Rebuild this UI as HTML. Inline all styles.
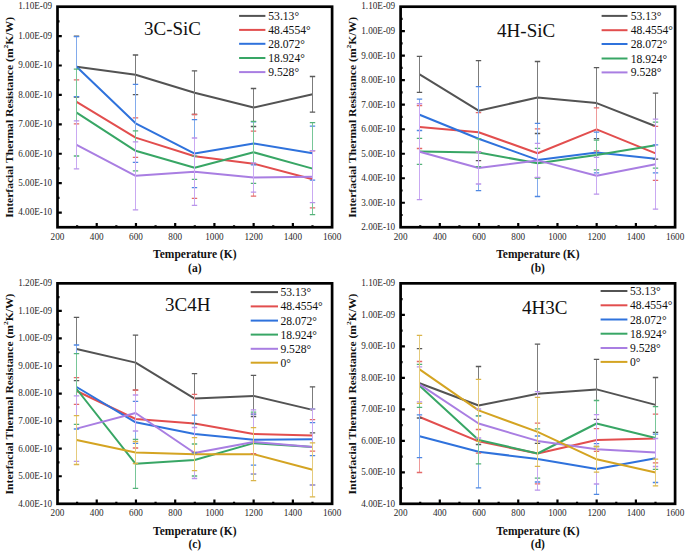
<!DOCTYPE html>
<html><head><meta charset="utf-8"><title>Interfacial Thermal Resistance</title>
<style>
html,body{margin:0;padding:0;background:#fff;}
body{width:685px;height:552px;overflow:hidden;}
svg{display:block;font-family:"Liberation Serif", serif;fill:#111;}
.tl{fill:#2a2a2a;}
</style></head><body>
<svg width="685" height="552" viewBox="0 0 685 552">
<rect width="685" height="552" fill="#fff"/>
<polyline points="76.60,66.70 135.60,74.80 194.60,92.70 253.60,107.50 312.60,94.30" stroke="#535353" stroke-width="2.0" fill="none" stroke-linejoin="round"/>
<polyline points="76.60,101.90 135.60,137.60 194.60,156.30 253.60,163.70 312.60,179.30" stroke="#e24e4e" stroke-width="2.0" fill="none" stroke-linejoin="round"/>
<polyline points="76.60,66.70 135.60,123.30 194.60,153.60 253.60,143.40 312.60,153.20" stroke="#2f72dc" stroke-width="2.0" fill="none" stroke-linejoin="round"/>
<polyline points="76.60,112.60 135.60,150.80 194.60,167.70 253.60,152.30 312.60,168.60" stroke="#38a665" stroke-width="2.0" fill="none" stroke-linejoin="round"/>
<polyline points="76.60,144.80 135.60,175.80 194.60,171.70 253.60,177.50 312.60,176.70" stroke="#a97ee2" stroke-width="2.0" fill="none" stroke-linejoin="round"/>
<path d="M76.50 36.20V97.20" stroke="#7c7c7c" stroke-width="1.0"/>
<path d="M73.80 36.20H79.20M73.80 97.20H79.20" stroke="#5a5a5a" stroke-width="1.3"/>
<path d="M135.50 55.00V94.60" stroke="#7c7c7c" stroke-width="1.0"/>
<path d="M132.80 55.00H138.20M132.80 94.60H138.20" stroke="#5a5a5a" stroke-width="1.3"/>
<path d="M194.50 70.90V114.50" stroke="#7c7c7c" stroke-width="1.0"/>
<path d="M191.80 70.90H197.20M191.80 114.50H197.20" stroke="#5a5a5a" stroke-width="1.3"/>
<path d="M253.50 88.50V126.50" stroke="#7c7c7c" stroke-width="1.0"/>
<path d="M250.80 88.50H256.20M250.80 126.50H256.20" stroke="#5a5a5a" stroke-width="1.3"/>
<path d="M312.50 76.50V112.10" stroke="#7c7c7c" stroke-width="1.0"/>
<path d="M309.80 76.50H315.20M309.80 112.10H315.20" stroke="#5a5a5a" stroke-width="1.3"/>
<path d="M76.50 79.90V123.90" stroke="#ee9a9a" stroke-width="1.0"/>
<path d="M73.80 79.90H79.20M73.80 123.90H79.20" stroke="#e46a6a" stroke-width="1.3"/>
<path d="M135.50 117.80V157.40" stroke="#ee9a9a" stroke-width="1.0"/>
<path d="M132.80 117.80H138.20M132.80 157.40H138.20" stroke="#e46a6a" stroke-width="1.3"/>
<path d="M194.50 114.30V198.30" stroke="#ee9a9a" stroke-width="1.0"/>
<path d="M191.80 114.30H197.20M191.80 198.30H197.20" stroke="#e46a6a" stroke-width="1.3"/>
<path d="M253.50 131.20V196.20" stroke="#ee9a9a" stroke-width="1.0"/>
<path d="M250.80 131.20H256.20M250.80 196.20H256.20" stroke="#e46a6a" stroke-width="1.3"/>
<path d="M312.50 150.80V207.80" stroke="#ee9a9a" stroke-width="1.0"/>
<path d="M309.80 150.80H315.20M309.80 207.80H315.20" stroke="#e46a6a" stroke-width="1.3"/>
<path d="M76.50 36.70V96.70" stroke="#82abec" stroke-width="1.0"/>
<path d="M73.80 36.70H79.20M73.80 96.70H79.20" stroke="#4f88e2" stroke-width="1.3"/>
<path d="M135.50 84.30V162.30" stroke="#82abec" stroke-width="1.0"/>
<path d="M132.80 84.30H138.20M132.80 162.30H138.20" stroke="#4f88e2" stroke-width="1.3"/>
<path d="M194.50 119.60V187.60" stroke="#82abec" stroke-width="1.0"/>
<path d="M191.80 119.60H197.20M191.80 187.60H197.20" stroke="#4f88e2" stroke-width="1.3"/>
<path d="M253.50 121.90V164.90" stroke="#82abec" stroke-width="1.0"/>
<path d="M250.80 121.90H256.20M250.80 164.90H256.20" stroke="#4f88e2" stroke-width="1.3"/>
<path d="M312.50 126.20V180.20" stroke="#82abec" stroke-width="1.0"/>
<path d="M309.80 126.20H315.20M309.80 180.20H315.20" stroke="#4f88e2" stroke-width="1.3"/>
<path d="M76.50 69.20V156.00" stroke="#78c698" stroke-width="1.0"/>
<path d="M73.80 69.20H79.20M73.80 156.00H79.20" stroke="#55b27a" stroke-width="1.3"/>
<path d="M135.50 130.80V170.80" stroke="#78c698" stroke-width="1.0"/>
<path d="M132.80 130.80H138.20M132.80 170.80H138.20" stroke="#55b27a" stroke-width="1.3"/>
<path d="M194.50 156.10V179.30" stroke="#78c698" stroke-width="1.0"/>
<path d="M191.80 156.10H197.20M191.80 179.30H197.20" stroke="#55b27a" stroke-width="1.3"/>
<path d="M253.50 121.30V183.30" stroke="#78c698" stroke-width="1.0"/>
<path d="M250.80 121.30H256.20M250.80 183.30H256.20" stroke="#55b27a" stroke-width="1.3"/>
<path d="M312.50 122.60V214.60" stroke="#78c698" stroke-width="1.0"/>
<path d="M309.80 122.60H315.20M309.80 214.60H315.20" stroke="#55b27a" stroke-width="1.3"/>
<path d="M76.50 120.80V168.80" stroke="#c9a9f2" stroke-width="1.0"/>
<path d="M73.80 120.80H79.20M73.80 168.80H79.20" stroke="#b994ea" stroke-width="1.3"/>
<path d="M135.50 141.80V209.80" stroke="#c9a9f2" stroke-width="1.0"/>
<path d="M132.80 141.80H138.20M132.80 209.80H138.20" stroke="#b994ea" stroke-width="1.3"/>
<path d="M194.50 138.00V205.40" stroke="#c9a9f2" stroke-width="1.0"/>
<path d="M191.80 138.00H197.20M191.80 205.40H197.20" stroke="#b994ea" stroke-width="1.3"/>
<path d="M253.50 162.80V192.20" stroke="#c9a9f2" stroke-width="1.0"/>
<path d="M250.80 162.80H256.20M250.80 192.20H256.20" stroke="#b994ea" stroke-width="1.3"/>
<path d="M312.50 150.70V202.70" stroke="#c9a9f2" stroke-width="1.0"/>
<path d="M309.80 150.70H315.20M309.80 202.70H315.20" stroke="#b994ea" stroke-width="1.3"/>
<rect x="57.50" y="6.70" width="274.60" height="220.55" fill="none" stroke="#000" stroke-width="2.7"/>
<path d="M77.11 227.25V225.25M96.73 227.25V222.95M116.34 227.25V225.25M135.96 227.25V222.95M155.57 227.25V225.25M175.19 227.25V222.95M194.80 227.25V225.25M214.41 227.25V222.95M234.03 227.25V225.25M253.64 227.25V222.95M273.26 227.25V225.25M292.87 227.25V222.95M312.49 227.25V225.25M57.50 212.55H61.80M57.50 197.84H59.50M57.50 183.14H61.80M57.50 168.44H59.50M57.50 153.73H61.80M57.50 139.03H59.50M57.50 124.33H61.80M57.50 109.62H59.50M57.50 94.92H61.80M57.50 80.22H59.50M57.50 65.51H61.80M57.50 50.81H59.50M57.50 36.11H61.80M57.50 21.40H59.50" stroke="#000" stroke-width="2.2" fill="none"/>
<text transform="translate(57.50 239.65) scale(0.92 1)" font-size="10.0" text-anchor="middle" class="tl">200</text>
<text transform="translate(96.73 239.65) scale(0.92 1)" font-size="10.0" text-anchor="middle" class="tl">400</text>
<text transform="translate(135.96 239.65) scale(0.92 1)" font-size="10.0" text-anchor="middle" class="tl">600</text>
<text transform="translate(175.19 239.65) scale(0.92 1)" font-size="10.0" text-anchor="middle" class="tl">800</text>
<text transform="translate(214.41 239.65) scale(0.92 1)" font-size="10.0" text-anchor="middle" class="tl">1000</text>
<text transform="translate(253.64 239.65) scale(0.92 1)" font-size="10.0" text-anchor="middle" class="tl">1200</text>
<text transform="translate(292.87 239.65) scale(0.92 1)" font-size="10.0" text-anchor="middle" class="tl">1400</text>
<text transform="translate(332.10 239.65) scale(0.92 1)" font-size="10.0" text-anchor="middle" class="tl">1600</text>
<text transform="translate(52.10 215.45) scale(0.92 1)" font-size="10.0" text-anchor="end" class="tl">4.00E-10</text>
<text transform="translate(52.10 186.04) scale(0.92 1)" font-size="10.0" text-anchor="end" class="tl">5.00E-10</text>
<text transform="translate(52.10 156.63) scale(0.92 1)" font-size="10.0" text-anchor="end" class="tl">6.00E-10</text>
<text transform="translate(52.10 127.23) scale(0.92 1)" font-size="10.0" text-anchor="end" class="tl">7.00E-10</text>
<text transform="translate(52.10 97.82) scale(0.92 1)" font-size="10.0" text-anchor="end" class="tl">8.00E-10</text>
<text transform="translate(52.10 68.41) scale(0.92 1)" font-size="10.0" text-anchor="end" class="tl">9.00E-10</text>
<text transform="translate(52.10 39.01) scale(0.92 1)" font-size="10.0" text-anchor="end" class="tl">1.00E-09</text>
<text transform="translate(52.10 9.10) scale(0.92 1)" font-size="10.0" text-anchor="end" class="tl">1.10E-09</text>
<text x="194.80" y="258.25" font-size="11.5" font-weight="bold" text-anchor="middle">Temperature (K)</text>
<text x="194.80" y="271.65" font-size="11.5" font-weight="bold" text-anchor="middle">(a)</text>
<text transform="translate(12.60 117.38) rotate(-90) scale(1 0.93)" font-size="11.6" font-weight="bold" text-anchor="middle">Interfacial Thermal Resistance (m<tspan font-size="7.6" dy="-4.6">2</tspan><tspan dy="4.6">K/W)</tspan></text>
<text x="144.00" y="35.40" font-size="19.0">3C-SiC</text>
<path d="M239.10 15.90H265.40" stroke="#535353" stroke-width="2.0"/>
<text x="268.30" y="19.90" font-size="11.6">53.13°</text>
<path d="M239.10 29.90H265.40" stroke="#e24e4e" stroke-width="2.0"/>
<text x="268.30" y="33.90" font-size="11.6">48.4554°</text>
<path d="M239.10 43.80H265.40" stroke="#2f72dc" stroke-width="2.0"/>
<text x="268.30" y="47.80" font-size="11.6">28.072°</text>
<path d="M239.10 58.00H265.40" stroke="#38a665" stroke-width="2.0"/>
<text x="268.30" y="62.00" font-size="11.6">18.924°</text>
<path d="M239.10 72.10H265.40" stroke="#a97ee2" stroke-width="2.0"/>
<text x="268.30" y="76.10" font-size="11.6">9.528°</text>
<polyline points="419.60,74.40 478.60,110.70 537.60,97.50 596.60,103.10 655.60,126.20" stroke="#535353" stroke-width="2.0" fill="none" stroke-linejoin="round"/>
<polyline points="419.60,127.00 478.60,132.20 537.60,153.20 596.60,129.40 655.60,153.40" stroke="#e24e4e" stroke-width="2.0" fill="none" stroke-linejoin="round"/>
<polyline points="419.60,114.80 478.60,138.70 537.60,159.90 596.60,152.50 655.60,158.80" stroke="#2f72dc" stroke-width="2.0" fill="none" stroke-linejoin="round"/>
<polyline points="419.60,151.40 478.60,152.60 537.60,163.20 596.60,155.00 655.60,145.20" stroke="#38a665" stroke-width="2.0" fill="none" stroke-linejoin="round"/>
<polyline points="419.60,151.70 478.60,168.00 537.60,160.40 596.60,175.80 655.60,164.20" stroke="#a97ee2" stroke-width="2.0" fill="none" stroke-linejoin="round"/>
<path d="M419.50 56.40V92.40" stroke="#7c7c7c" stroke-width="1.0"/>
<path d="M416.80 56.40H422.20M416.80 92.40H422.20" stroke="#5a5a5a" stroke-width="1.3"/>
<path d="M478.50 60.70V160.70" stroke="#7c7c7c" stroke-width="1.0"/>
<path d="M475.80 60.70H481.20M475.80 160.70H481.20" stroke="#5a5a5a" stroke-width="1.3"/>
<path d="M537.50 61.50V133.50" stroke="#7c7c7c" stroke-width="1.0"/>
<path d="M534.80 61.50H540.20M534.80 133.50H540.20" stroke="#5a5a5a" stroke-width="1.3"/>
<path d="M596.50 67.60V138.60" stroke="#7c7c7c" stroke-width="1.0"/>
<path d="M593.80 67.60H599.20M593.80 138.60H599.20" stroke="#5a5a5a" stroke-width="1.3"/>
<path d="M655.50 93.20V159.20" stroke="#7c7c7c" stroke-width="1.0"/>
<path d="M652.80 93.20H658.20M652.80 159.20H658.20" stroke="#5a5a5a" stroke-width="1.3"/>
<path d="M419.50 105.50V148.50" stroke="#ee9a9a" stroke-width="1.0"/>
<path d="M416.80 105.50H422.20M416.80 148.50H422.20" stroke="#e46a6a" stroke-width="1.3"/>
<path d="M478.50 112.70V151.70" stroke="#ee9a9a" stroke-width="1.0"/>
<path d="M475.80 112.70H481.20M475.80 151.70H481.20" stroke="#e46a6a" stroke-width="1.3"/>
<path d="M537.50 128.80V177.60" stroke="#ee9a9a" stroke-width="1.0"/>
<path d="M534.80 128.80H540.20M534.80 177.60H540.20" stroke="#e46a6a" stroke-width="1.3"/>
<path d="M596.50 107.90V150.90" stroke="#ee9a9a" stroke-width="1.0"/>
<path d="M593.80 107.90H599.20M593.80 150.90H599.20" stroke="#e46a6a" stroke-width="1.3"/>
<path d="M655.50 126.40V180.40" stroke="#ee9a9a" stroke-width="1.0"/>
<path d="M652.80 126.40H658.20M652.80 180.40H658.20" stroke="#e46a6a" stroke-width="1.3"/>
<path d="M419.50 99.10V130.50" stroke="#82abec" stroke-width="1.0"/>
<path d="M416.80 99.10H422.20M416.80 130.50H422.20" stroke="#4f88e2" stroke-width="1.3"/>
<path d="M478.50 86.70V190.70" stroke="#82abec" stroke-width="1.0"/>
<path d="M475.80 86.70H481.20M475.80 190.70H481.20" stroke="#4f88e2" stroke-width="1.3"/>
<path d="M537.50 123.30V196.50" stroke="#82abec" stroke-width="1.0"/>
<path d="M534.80 123.30H540.20M534.80 196.50H540.20" stroke="#4f88e2" stroke-width="1.3"/>
<path d="M596.50 132.20V172.80" stroke="#82abec" stroke-width="1.0"/>
<path d="M593.80 132.20H599.20M593.80 172.80H599.20" stroke="#4f88e2" stroke-width="1.3"/>
<path d="M655.50 144.80V172.80" stroke="#82abec" stroke-width="1.0"/>
<path d="M652.80 144.80H658.20M652.80 172.80H658.20" stroke="#4f88e2" stroke-width="1.3"/>
<path d="M419.50 138.40V164.40" stroke="#78c698" stroke-width="1.0"/>
<path d="M416.80 138.40H422.20M416.80 164.40H422.20" stroke="#55b27a" stroke-width="1.3"/>
<path d="M478.50 138.60V166.60" stroke="#78c698" stroke-width="1.0"/>
<path d="M475.80 138.60H481.20M475.80 166.60H481.20" stroke="#55b27a" stroke-width="1.3"/>
<path d="M537.50 148.40V178.00" stroke="#78c698" stroke-width="1.0"/>
<path d="M534.80 148.40H540.20M534.80 178.00H540.20" stroke="#55b27a" stroke-width="1.3"/>
<path d="M596.50 140.20V169.80" stroke="#78c698" stroke-width="1.0"/>
<path d="M593.80 140.20H599.20M593.80 169.80H599.20" stroke="#55b27a" stroke-width="1.3"/>
<path d="M655.50 122.20V168.20" stroke="#78c698" stroke-width="1.0"/>
<path d="M652.80 122.20H658.20M652.80 168.20H658.20" stroke="#55b27a" stroke-width="1.3"/>
<path d="M419.50 103.70V199.70" stroke="#c9a9f2" stroke-width="1.0"/>
<path d="M416.80 103.70H422.20M416.80 199.70H422.20" stroke="#b994ea" stroke-width="1.3"/>
<path d="M478.50 152.00V184.00" stroke="#c9a9f2" stroke-width="1.0"/>
<path d="M475.80 152.00H481.20M475.80 184.00H481.20" stroke="#b994ea" stroke-width="1.3"/>
<path d="M537.50 143.40V177.40" stroke="#c9a9f2" stroke-width="1.0"/>
<path d="M534.80 143.40H540.20M534.80 177.40H540.20" stroke="#b994ea" stroke-width="1.3"/>
<path d="M596.50 157.40V194.20" stroke="#c9a9f2" stroke-width="1.0"/>
<path d="M593.80 157.40H599.20M593.80 194.20H599.20" stroke="#b994ea" stroke-width="1.3"/>
<path d="M655.50 119.20V209.20" stroke="#c9a9f2" stroke-width="1.0"/>
<path d="M652.80 119.20H658.20M652.80 209.20H658.20" stroke="#b994ea" stroke-width="1.3"/>
<rect x="400.60" y="6.70" width="274.50" height="220.55" fill="none" stroke="#000" stroke-width="2.7"/>
<path d="M420.21 227.25V225.25M439.81 227.25V222.95M459.42 227.25V225.25M479.03 227.25V222.95M498.64 227.25V225.25M518.24 227.25V222.95M537.85 227.25V225.25M557.46 227.25V222.95M577.06 227.25V225.25M596.67 227.25V222.95M616.28 227.25V225.25M635.89 227.25V222.95M655.49 227.25V225.25M400.60 215.00H402.60M400.60 202.74H404.90M400.60 190.49H402.60M400.60 178.24H404.90M400.60 165.99H402.60M400.60 153.73H404.90M400.60 141.48H402.60M400.60 129.23H404.90M400.60 116.97H402.60M400.60 104.72H404.90M400.60 92.47H402.60M400.60 80.22H404.90M400.60 67.96H402.60M400.60 55.71H404.90M400.60 43.46H402.60M400.60 31.21H404.90M400.60 18.95H402.60" stroke="#000" stroke-width="2.2" fill="none"/>
<text transform="translate(400.60 239.65) scale(0.92 1)" font-size="10.0" text-anchor="middle" class="tl">200</text>
<text transform="translate(439.81 239.65) scale(0.92 1)" font-size="10.0" text-anchor="middle" class="tl">400</text>
<text transform="translate(479.03 239.65) scale(0.92 1)" font-size="10.0" text-anchor="middle" class="tl">600</text>
<text transform="translate(518.24 239.65) scale(0.92 1)" font-size="10.0" text-anchor="middle" class="tl">800</text>
<text transform="translate(557.46 239.65) scale(0.92 1)" font-size="10.0" text-anchor="middle" class="tl">1000</text>
<text transform="translate(596.67 239.65) scale(0.92 1)" font-size="10.0" text-anchor="middle" class="tl">1200</text>
<text transform="translate(635.89 239.65) scale(0.92 1)" font-size="10.0" text-anchor="middle" class="tl">1400</text>
<text transform="translate(675.10 239.65) scale(0.92 1)" font-size="10.0" text-anchor="middle" class="tl">1600</text>
<text transform="translate(395.20 230.15) scale(0.92 1)" font-size="10.0" text-anchor="end" class="tl">2.00E-10</text>
<text transform="translate(395.20 205.64) scale(0.92 1)" font-size="10.0" text-anchor="end" class="tl">3.00E-10</text>
<text transform="translate(395.20 181.14) scale(0.92 1)" font-size="10.0" text-anchor="end" class="tl">4.00E-10</text>
<text transform="translate(395.20 156.63) scale(0.92 1)" font-size="10.0" text-anchor="end" class="tl">5.00E-10</text>
<text transform="translate(395.20 132.13) scale(0.92 1)" font-size="10.0" text-anchor="end" class="tl">6.00E-10</text>
<text transform="translate(395.20 107.62) scale(0.92 1)" font-size="10.0" text-anchor="end" class="tl">7.00E-10</text>
<text transform="translate(395.20 83.12) scale(0.92 1)" font-size="10.0" text-anchor="end" class="tl">8.00E-10</text>
<text transform="translate(395.20 58.61) scale(0.92 1)" font-size="10.0" text-anchor="end" class="tl">9.00E-10</text>
<text transform="translate(395.20 34.11) scale(0.92 1)" font-size="10.0" text-anchor="end" class="tl">1.00E-09</text>
<text transform="translate(395.20 9.10) scale(0.92 1)" font-size="10.0" text-anchor="end" class="tl">1.10E-09</text>
<text x="537.85" y="258.25" font-size="11.5" font-weight="bold" text-anchor="middle">Temperature (K)</text>
<text x="537.85" y="271.65" font-size="11.5" font-weight="bold" text-anchor="middle">(b)</text>
<text transform="translate(355.70 117.38) rotate(-90) scale(1 0.93)" font-size="11.6" font-weight="bold" text-anchor="middle">Interfacial Thermal Resistance (m<tspan font-size="7.6" dy="-4.6">2</tspan><tspan dy="4.6">K/W)</tspan></text>
<text x="497.10" y="36.70" font-size="19.0">4H-SiC</text>
<path d="M601.60 15.90H627.50" stroke="#535353" stroke-width="2.0"/>
<text x="630.70" y="19.90" font-size="11.6">53.13°</text>
<path d="M601.60 30.20H627.50" stroke="#e24e4e" stroke-width="2.0"/>
<text x="630.70" y="34.20" font-size="11.6">48.4554°</text>
<path d="M601.60 44.00H627.50" stroke="#2f72dc" stroke-width="2.0"/>
<text x="630.70" y="48.00" font-size="11.6">28.072°</text>
<path d="M601.60 58.50H627.50" stroke="#38a665" stroke-width="2.0"/>
<text x="630.70" y="62.50" font-size="11.6">18.924°</text>
<path d="M601.60 72.40H627.50" stroke="#a97ee2" stroke-width="2.0"/>
<text x="630.70" y="76.40" font-size="11.6">9.528°</text>
<polyline points="76.60,349.00 135.60,362.60 194.60,398.60 253.60,395.90 312.60,409.90" stroke="#535353" stroke-width="2.0" fill="none" stroke-linejoin="round"/>
<polyline points="76.60,391.00 135.60,419.00 194.60,423.40 253.60,433.90 312.60,435.40" stroke="#e24e4e" stroke-width="2.0" fill="none" stroke-linejoin="round"/>
<polyline points="76.60,387.00 135.60,422.30 194.60,434.00 253.60,439.70 312.60,439.20" stroke="#2f72dc" stroke-width="2.0" fill="none" stroke-linejoin="round"/>
<polyline points="76.60,389.00 135.60,463.80 194.60,460.00 253.60,443.10 312.60,447.00" stroke="#38a665" stroke-width="2.0" fill="none" stroke-linejoin="round"/>
<polyline points="76.60,428.60 135.60,413.00 194.60,453.00 253.60,441.90 312.60,447.00" stroke="#a97ee2" stroke-width="2.0" fill="none" stroke-linejoin="round"/>
<polyline points="76.60,440.10 135.60,452.50 194.60,454.20 253.60,454.20 312.60,469.80" stroke="#d4a422" stroke-width="2.0" fill="none" stroke-linejoin="round"/>
<path d="M76.50 317.40V380.60" stroke="#7c7c7c" stroke-width="1.0"/>
<path d="M73.80 317.40H79.20M73.80 380.60H79.20" stroke="#5a5a5a" stroke-width="1.3"/>
<path d="M135.50 335.10V390.10" stroke="#7c7c7c" stroke-width="1.0"/>
<path d="M132.80 335.10H138.20M132.80 390.10H138.20" stroke="#5a5a5a" stroke-width="1.3"/>
<path d="M194.50 373.60V423.60" stroke="#7c7c7c" stroke-width="1.0"/>
<path d="M191.80 373.60H197.20M191.80 423.60H197.20" stroke="#5a5a5a" stroke-width="1.3"/>
<path d="M253.50 375.30V416.50" stroke="#7c7c7c" stroke-width="1.0"/>
<path d="M250.80 375.30H256.20M250.80 416.50H256.20" stroke="#5a5a5a" stroke-width="1.3"/>
<path d="M312.50 386.90V432.90" stroke="#7c7c7c" stroke-width="1.0"/>
<path d="M309.80 386.90H315.20M309.80 432.90H315.20" stroke="#5a5a5a" stroke-width="1.3"/>
<path d="M76.50 377.70V404.30" stroke="#ee9a9a" stroke-width="1.0"/>
<path d="M73.80 377.70H79.20M73.80 404.30H79.20" stroke="#e46a6a" stroke-width="1.3"/>
<path d="M135.50 390.00V448.00" stroke="#ee9a9a" stroke-width="1.0"/>
<path d="M132.80 390.00H138.20M132.80 448.00H138.20" stroke="#e46a6a" stroke-width="1.3"/>
<path d="M194.50 394.40V452.40" stroke="#ee9a9a" stroke-width="1.0"/>
<path d="M191.80 394.40H197.20M191.80 452.40H197.20" stroke="#e46a6a" stroke-width="1.3"/>
<path d="M253.50 414.20V453.60" stroke="#ee9a9a" stroke-width="1.0"/>
<path d="M250.80 414.20H256.20M250.80 453.60H256.20" stroke="#e46a6a" stroke-width="1.3"/>
<path d="M312.50 419.60V451.20" stroke="#ee9a9a" stroke-width="1.0"/>
<path d="M309.80 419.60H315.20M309.80 451.20H315.20" stroke="#e46a6a" stroke-width="1.3"/>
<path d="M76.50 345.00V429.00" stroke="#82abec" stroke-width="1.0"/>
<path d="M73.80 345.00H79.20M73.80 429.00H79.20" stroke="#4f88e2" stroke-width="1.3"/>
<path d="M135.50 401.30V443.30" stroke="#82abec" stroke-width="1.0"/>
<path d="M132.80 401.30H138.20M132.80 443.30H138.20" stroke="#4f88e2" stroke-width="1.3"/>
<path d="M194.50 415.20V452.80" stroke="#82abec" stroke-width="1.0"/>
<path d="M191.80 415.20H197.20M191.80 452.80H197.20" stroke="#4f88e2" stroke-width="1.3"/>
<path d="M253.50 414.20V465.20" stroke="#82abec" stroke-width="1.0"/>
<path d="M250.80 414.20H256.20M250.80 465.20H256.20" stroke="#4f88e2" stroke-width="1.3"/>
<path d="M312.50 422.70V455.70" stroke="#82abec" stroke-width="1.0"/>
<path d="M309.80 422.70H315.20M309.80 455.70H315.20" stroke="#4f88e2" stroke-width="1.3"/>
<path d="M76.50 353.70V424.30" stroke="#78c698" stroke-width="1.0"/>
<path d="M73.80 353.70H79.20M73.80 424.30H79.20" stroke="#55b27a" stroke-width="1.3"/>
<path d="M135.50 439.30V488.30" stroke="#78c698" stroke-width="1.0"/>
<path d="M132.80 439.30H138.20M132.80 488.30H138.20" stroke="#55b27a" stroke-width="1.3"/>
<path d="M194.50 444.00V476.00" stroke="#78c698" stroke-width="1.0"/>
<path d="M191.80 444.00H197.20M191.80 476.00H197.20" stroke="#55b27a" stroke-width="1.3"/>
<path d="M253.50 412.10V474.10" stroke="#78c698" stroke-width="1.0"/>
<path d="M250.80 412.10H256.20M250.80 474.10H256.20" stroke="#55b27a" stroke-width="1.3"/>
<path d="M312.50 409.00V485.00" stroke="#78c698" stroke-width="1.0"/>
<path d="M309.80 409.00H315.20M309.80 485.00H315.20" stroke="#55b27a" stroke-width="1.3"/>
<path d="M76.50 395.80V461.40" stroke="#c9a9f2" stroke-width="1.0"/>
<path d="M73.80 395.80H79.20M73.80 461.40H79.20" stroke="#b994ea" stroke-width="1.3"/>
<path d="M135.50 395.00V431.00" stroke="#c9a9f2" stroke-width="1.0"/>
<path d="M132.80 395.00H138.20M132.80 431.00H138.20" stroke="#b994ea" stroke-width="1.3"/>
<path d="M194.50 427.50V478.50" stroke="#c9a9f2" stroke-width="1.0"/>
<path d="M191.80 427.50H197.20M191.80 478.50H197.20" stroke="#b994ea" stroke-width="1.3"/>
<path d="M253.50 409.90V473.90" stroke="#c9a9f2" stroke-width="1.0"/>
<path d="M250.80 409.90H256.20M250.80 473.90H256.20" stroke="#b994ea" stroke-width="1.3"/>
<path d="M312.50 409.00V485.00" stroke="#c9a9f2" stroke-width="1.0"/>
<path d="M309.80 409.00H315.20M309.80 485.00H315.20" stroke="#b994ea" stroke-width="1.3"/>
<path d="M76.50 415.70V464.50" stroke="#e5cb7c" stroke-width="1.0"/>
<path d="M73.80 415.70H79.20M73.80 464.50H79.20" stroke="#dab54a" stroke-width="1.3"/>
<path d="M135.50 441.50V463.50" stroke="#e5cb7c" stroke-width="1.0"/>
<path d="M132.80 441.50H138.20M132.80 463.50H138.20" stroke="#dab54a" stroke-width="1.3"/>
<path d="M194.50 437.70V470.70" stroke="#e5cb7c" stroke-width="1.0"/>
<path d="M191.80 437.70H197.20M191.80 470.70H197.20" stroke="#dab54a" stroke-width="1.3"/>
<path d="M253.50 427.70V480.70" stroke="#e5cb7c" stroke-width="1.0"/>
<path d="M250.80 427.70H256.20M250.80 480.70H256.20" stroke="#dab54a" stroke-width="1.3"/>
<path d="M312.50 442.80V496.80" stroke="#e5cb7c" stroke-width="1.0"/>
<path d="M309.80 442.80H315.20M309.80 496.80H315.20" stroke="#dab54a" stroke-width="1.3"/>
<rect x="57.50" y="283.35" width="274.60" height="220.45" fill="none" stroke="#000" stroke-width="2.7"/>
<path d="M77.11 503.80V501.80M96.73 503.80V499.50M116.34 503.80V501.80M135.96 503.80V499.50M155.57 503.80V501.80M175.19 503.80V499.50M194.80 503.80V501.80M214.41 503.80V499.50M234.03 503.80V501.80M253.64 503.80V499.50M273.26 503.80V501.80M292.87 503.80V499.50M312.49 503.80V501.80M57.50 490.02H59.50M57.50 476.24H61.80M57.50 462.47H59.50M57.50 448.69H61.80M57.50 434.91H59.50M57.50 421.13H61.80M57.50 407.35H59.50M57.50 393.58H61.80M57.50 379.80H59.50M57.50 366.02H61.80M57.50 352.24H59.50M57.50 338.46H61.80M57.50 324.68H59.50M57.50 310.91H61.80M57.50 297.13H59.50" stroke="#000" stroke-width="2.2" fill="none"/>
<text transform="translate(57.50 516.20) scale(0.92 1)" font-size="10.0" text-anchor="middle" class="tl">200</text>
<text transform="translate(96.73 516.20) scale(0.92 1)" font-size="10.0" text-anchor="middle" class="tl">400</text>
<text transform="translate(135.96 516.20) scale(0.92 1)" font-size="10.0" text-anchor="middle" class="tl">600</text>
<text transform="translate(175.19 516.20) scale(0.92 1)" font-size="10.0" text-anchor="middle" class="tl">800</text>
<text transform="translate(214.41 516.20) scale(0.92 1)" font-size="10.0" text-anchor="middle" class="tl">1000</text>
<text transform="translate(253.64 516.20) scale(0.92 1)" font-size="10.0" text-anchor="middle" class="tl">1200</text>
<text transform="translate(292.87 516.20) scale(0.92 1)" font-size="10.0" text-anchor="middle" class="tl">1400</text>
<text transform="translate(332.10 516.20) scale(0.92 1)" font-size="10.0" text-anchor="middle" class="tl">1600</text>
<text transform="translate(52.10 506.70) scale(0.92 1)" font-size="10.0" text-anchor="end" class="tl">4.00E-10</text>
<text transform="translate(52.10 479.14) scale(0.92 1)" font-size="10.0" text-anchor="end" class="tl">5.00E-10</text>
<text transform="translate(52.10 451.59) scale(0.92 1)" font-size="10.0" text-anchor="end" class="tl">6.00E-10</text>
<text transform="translate(52.10 424.03) scale(0.92 1)" font-size="10.0" text-anchor="end" class="tl">7.00E-10</text>
<text transform="translate(52.10 396.48) scale(0.92 1)" font-size="10.0" text-anchor="end" class="tl">8.00E-10</text>
<text transform="translate(52.10 368.92) scale(0.92 1)" font-size="10.0" text-anchor="end" class="tl">9.00E-10</text>
<text transform="translate(52.10 341.36) scale(0.92 1)" font-size="10.0" text-anchor="end" class="tl">1.00E-09</text>
<text transform="translate(52.10 313.81) scale(0.92 1)" font-size="10.0" text-anchor="end" class="tl">1.10E-09</text>
<text transform="translate(52.10 285.75) scale(0.92 1)" font-size="10.0" text-anchor="end" class="tl">1.20E-09</text>
<text x="194.80" y="534.80" font-size="11.5" font-weight="bold" text-anchor="middle">Temperature (K)</text>
<text x="194.80" y="548.20" font-size="11.5" font-weight="bold" text-anchor="middle">(c)</text>
<text transform="translate(12.60 393.98) rotate(-90) scale(1 0.93)" font-size="11.6" font-weight="bold" text-anchor="middle">Interfacial Thermal Resistance (m<tspan font-size="7.6" dy="-4.6">2</tspan><tspan dy="4.6">K/W)</tspan></text>
<text x="165.00" y="311.10" font-size="19.0">3C4H</text>
<path d="M250.70 292.10H278.00" stroke="#535353" stroke-width="2.0"/>
<text x="280.40" y="296.10" font-size="11.6">53.13°</text>
<path d="M250.70 306.40H278.00" stroke="#e24e4e" stroke-width="2.0"/>
<text x="280.40" y="310.40" font-size="11.6">48.4554°</text>
<path d="M250.70 320.60H278.00" stroke="#2f72dc" stroke-width="2.0"/>
<text x="280.40" y="324.60" font-size="11.6">28.072°</text>
<path d="M250.70 334.60H278.00" stroke="#38a665" stroke-width="2.0"/>
<text x="280.40" y="338.60" font-size="11.6">18.924°</text>
<path d="M250.70 348.80H278.00" stroke="#a97ee2" stroke-width="2.0"/>
<text x="280.40" y="352.80" font-size="11.6">9.528°</text>
<path d="M250.70 362.70H278.00" stroke="#d4a422" stroke-width="2.0"/>
<text x="280.40" y="366.70" font-size="11.6">0°</text>
<polyline points="419.60,383.30 478.60,405.50 537.60,393.80 596.60,389.40 655.60,404.90" stroke="#535353" stroke-width="2.0" fill="none" stroke-linejoin="round"/>
<polyline points="419.60,417.00 478.60,441.30 537.60,453.50 596.60,440.00 655.60,438.50" stroke="#e24e4e" stroke-width="2.0" fill="none" stroke-linejoin="round"/>
<polyline points="419.60,436.20 478.60,451.80 537.60,459.00 596.60,469.00 655.60,458.30" stroke="#2f72dc" stroke-width="2.0" fill="none" stroke-linejoin="round"/>
<polyline points="419.60,385.80 478.60,439.90 537.60,453.50 596.60,423.50 655.60,438.00" stroke="#38a665" stroke-width="2.0" fill="none" stroke-linejoin="round"/>
<polyline points="419.60,384.30 478.60,423.50 537.60,440.90 596.60,449.30 655.60,452.50" stroke="#a97ee2" stroke-width="2.0" fill="none" stroke-linejoin="round"/>
<polyline points="419.60,369.40 478.60,410.40 537.60,431.90 596.60,459.30 655.60,472.50" stroke="#d4a422" stroke-width="2.0" fill="none" stroke-linejoin="round"/>
<path d="M419.50 348.60V418.00" stroke="#7c7c7c" stroke-width="1.0"/>
<path d="M416.80 348.60H422.20M416.80 418.00H422.20" stroke="#5a5a5a" stroke-width="1.3"/>
<path d="M478.50 366.50V444.50" stroke="#7c7c7c" stroke-width="1.0"/>
<path d="M475.80 366.50H481.20M475.80 444.50H481.20" stroke="#5a5a5a" stroke-width="1.3"/>
<path d="M537.50 344.20V443.40" stroke="#7c7c7c" stroke-width="1.0"/>
<path d="M534.80 344.20H540.20M534.80 443.40H540.20" stroke="#5a5a5a" stroke-width="1.3"/>
<path d="M596.50 359.40V419.40" stroke="#7c7c7c" stroke-width="1.0"/>
<path d="M593.80 359.40H599.20M593.80 419.40H599.20" stroke="#5a5a5a" stroke-width="1.3"/>
<path d="M655.50 377.50V432.30" stroke="#7c7c7c" stroke-width="1.0"/>
<path d="M652.80 377.50H658.20M652.80 432.30H658.20" stroke="#5a5a5a" stroke-width="1.3"/>
<path d="M419.50 361.50V472.50" stroke="#ee9a9a" stroke-width="1.0"/>
<path d="M416.80 361.50H422.20M416.80 472.50H422.20" stroke="#e46a6a" stroke-width="1.3"/>
<path d="M478.50 429.50V453.10" stroke="#ee9a9a" stroke-width="1.0"/>
<path d="M475.80 429.50H481.20M475.80 453.10H481.20" stroke="#e46a6a" stroke-width="1.3"/>
<path d="M537.50 423.20V483.80" stroke="#ee9a9a" stroke-width="1.0"/>
<path d="M534.80 423.20H540.20M534.80 483.80H540.20" stroke="#e46a6a" stroke-width="1.3"/>
<path d="M596.50 428.60V451.40" stroke="#ee9a9a" stroke-width="1.0"/>
<path d="M593.80 428.60H599.20M593.80 451.40H599.20" stroke="#e46a6a" stroke-width="1.3"/>
<path d="M655.50 414.10V462.90" stroke="#ee9a9a" stroke-width="1.0"/>
<path d="M652.80 414.10H658.20M652.80 462.90H658.20" stroke="#e46a6a" stroke-width="1.3"/>
<path d="M419.50 414.80V457.60" stroke="#82abec" stroke-width="1.0"/>
<path d="M416.80 414.80H422.20M416.80 457.60H422.20" stroke="#4f88e2" stroke-width="1.3"/>
<path d="M478.50 415.80V487.80" stroke="#82abec" stroke-width="1.0"/>
<path d="M475.80 415.80H481.20M475.80 487.80H481.20" stroke="#4f88e2" stroke-width="1.3"/>
<path d="M537.50 436.00V482.00" stroke="#82abec" stroke-width="1.0"/>
<path d="M534.80 436.00H540.20M534.80 482.00H540.20" stroke="#4f88e2" stroke-width="1.3"/>
<path d="M596.50 443.70V494.30" stroke="#82abec" stroke-width="1.0"/>
<path d="M593.80 443.70H599.20M593.80 494.30H599.20" stroke="#4f88e2" stroke-width="1.3"/>
<path d="M655.50 434.10V482.50" stroke="#82abec" stroke-width="1.0"/>
<path d="M652.80 434.10H658.20M652.80 482.50H658.20" stroke="#4f88e2" stroke-width="1.3"/>
<path d="M419.50 364.30V407.30" stroke="#78c698" stroke-width="1.0"/>
<path d="M416.80 364.30H422.20M416.80 407.30H422.20" stroke="#55b27a" stroke-width="1.3"/>
<path d="M478.50 415.90V463.90" stroke="#78c698" stroke-width="1.0"/>
<path d="M475.80 415.90H481.20M475.80 463.90H481.20" stroke="#55b27a" stroke-width="1.3"/>
<path d="M537.50 428.90V478.10" stroke="#78c698" stroke-width="1.0"/>
<path d="M534.80 428.90H540.20M534.80 478.10H540.20" stroke="#55b27a" stroke-width="1.3"/>
<path d="M596.50 400.50V446.50" stroke="#78c698" stroke-width="1.0"/>
<path d="M593.80 400.50H599.20M593.80 446.50H599.20" stroke="#55b27a" stroke-width="1.3"/>
<path d="M655.50 406.60V469.40" stroke="#78c698" stroke-width="1.0"/>
<path d="M652.80 406.60H658.20M652.80 469.40H658.20" stroke="#55b27a" stroke-width="1.3"/>
<path d="M419.50 366.80V401.80" stroke="#c9a9f2" stroke-width="1.0"/>
<path d="M416.80 366.80H422.20M416.80 401.80H422.20" stroke="#b994ea" stroke-width="1.3"/>
<path d="M478.50 409.00V438.00" stroke="#c9a9f2" stroke-width="1.0"/>
<path d="M475.80 409.00H481.20M475.80 438.00H481.20" stroke="#b994ea" stroke-width="1.3"/>
<path d="M537.50 391.60V490.20" stroke="#c9a9f2" stroke-width="1.0"/>
<path d="M534.80 391.60H540.20M534.80 490.20H540.20" stroke="#b994ea" stroke-width="1.3"/>
<path d="M596.50 414.60V484.00" stroke="#c9a9f2" stroke-width="1.0"/>
<path d="M593.80 414.60H599.20M593.80 484.00H599.20" stroke="#b994ea" stroke-width="1.3"/>
<path d="M655.50 438.50V466.50" stroke="#c9a9f2" stroke-width="1.0"/>
<path d="M652.80 438.50H658.20M652.80 466.50H658.20" stroke="#b994ea" stroke-width="1.3"/>
<path d="M419.50 335.40V403.40" stroke="#e5cb7c" stroke-width="1.0"/>
<path d="M416.80 335.40H422.20M416.80 403.40H422.20" stroke="#dab54a" stroke-width="1.3"/>
<path d="M478.50 379.40V441.40" stroke="#e5cb7c" stroke-width="1.0"/>
<path d="M475.80 379.40H481.20M475.80 441.40H481.20" stroke="#dab54a" stroke-width="1.3"/>
<path d="M537.50 397.40V466.40" stroke="#e5cb7c" stroke-width="1.0"/>
<path d="M534.80 397.40H540.20M534.80 466.40H540.20" stroke="#dab54a" stroke-width="1.3"/>
<path d="M596.50 446.50V472.10" stroke="#e5cb7c" stroke-width="1.0"/>
<path d="M593.80 446.50H599.20M593.80 472.10H599.20" stroke="#dab54a" stroke-width="1.3"/>
<path d="M655.50 459.20V485.80" stroke="#e5cb7c" stroke-width="1.0"/>
<path d="M652.80 459.20H658.20M652.80 485.80H658.20" stroke="#dab54a" stroke-width="1.3"/>
<rect x="400.60" y="283.35" width="274.50" height="220.45" fill="none" stroke="#000" stroke-width="2.7"/>
<path d="M420.21 503.80V501.80M439.81 503.80V499.50M459.42 503.80V501.80M479.03 503.80V499.50M498.64 503.80V501.80M518.24 503.80V499.50M537.85 503.80V501.80M557.46 503.80V499.50M577.06 503.80V501.80M596.67 503.80V499.50M616.28 503.80V501.80M635.89 503.80V499.50M655.49 503.80V501.80M400.60 488.05H402.60M400.60 472.31H404.90M400.60 456.56H402.60M400.60 440.81H404.90M400.60 425.07H402.60M400.60 409.32H404.90M400.60 393.58H402.60M400.60 377.83H404.90M400.60 362.08H402.60M400.60 346.34H404.90M400.60 330.59H402.60M400.60 314.84H404.90M400.60 299.10H402.60" stroke="#000" stroke-width="2.2" fill="none"/>
<text transform="translate(400.60 516.20) scale(0.92 1)" font-size="10.0" text-anchor="middle" class="tl">200</text>
<text transform="translate(439.81 516.20) scale(0.92 1)" font-size="10.0" text-anchor="middle" class="tl">400</text>
<text transform="translate(479.03 516.20) scale(0.92 1)" font-size="10.0" text-anchor="middle" class="tl">600</text>
<text transform="translate(518.24 516.20) scale(0.92 1)" font-size="10.0" text-anchor="middle" class="tl">800</text>
<text transform="translate(557.46 516.20) scale(0.92 1)" font-size="10.0" text-anchor="middle" class="tl">1000</text>
<text transform="translate(596.67 516.20) scale(0.92 1)" font-size="10.0" text-anchor="middle" class="tl">1200</text>
<text transform="translate(635.89 516.20) scale(0.92 1)" font-size="10.0" text-anchor="middle" class="tl">1400</text>
<text transform="translate(675.10 516.20) scale(0.92 1)" font-size="10.0" text-anchor="middle" class="tl">1600</text>
<text transform="translate(395.20 506.70) scale(0.92 1)" font-size="10.0" text-anchor="end" class="tl">4.00E-10</text>
<text transform="translate(395.20 475.21) scale(0.92 1)" font-size="10.0" text-anchor="end" class="tl">5.00E-10</text>
<text transform="translate(395.20 443.71) scale(0.92 1)" font-size="10.0" text-anchor="end" class="tl">6.00E-10</text>
<text transform="translate(395.20 412.22) scale(0.92 1)" font-size="10.0" text-anchor="end" class="tl">7.00E-10</text>
<text transform="translate(395.20 380.73) scale(0.92 1)" font-size="10.0" text-anchor="end" class="tl">8.00E-10</text>
<text transform="translate(395.20 349.24) scale(0.92 1)" font-size="10.0" text-anchor="end" class="tl">9.00E-10</text>
<text transform="translate(395.20 317.74) scale(0.92 1)" font-size="10.0" text-anchor="end" class="tl">1.00E-09</text>
<text transform="translate(395.20 285.75) scale(0.92 1)" font-size="10.0" text-anchor="end" class="tl">1.10E-09</text>
<text x="537.85" y="534.80" font-size="11.5" font-weight="bold" text-anchor="middle">Temperature (K)</text>
<text x="537.85" y="548.20" font-size="11.5" font-weight="bold" text-anchor="middle">(d)</text>
<text transform="translate(355.70 393.98) rotate(-90) scale(1 0.93)" font-size="11.6" font-weight="bold" text-anchor="middle">Interfacial Thermal Resistance (m<tspan font-size="7.6" dy="-4.6">2</tspan><tspan dy="4.6">K/W)</tspan></text>
<text x="522.10" y="314.00" font-size="19.0">4H3C</text>
<path d="M600.60 291.00H627.40" stroke="#535353" stroke-width="2.0"/>
<text x="630.00" y="295.00" font-size="11.6">53.13°</text>
<path d="M600.60 305.30H627.40" stroke="#e24e4e" stroke-width="2.0"/>
<text x="630.00" y="309.30" font-size="11.6">48.4554°</text>
<path d="M600.60 319.50H627.40" stroke="#2f72dc" stroke-width="2.0"/>
<text x="630.00" y="323.50" font-size="11.6">28.072°</text>
<path d="M600.60 333.70H627.40" stroke="#38a665" stroke-width="2.0"/>
<text x="630.00" y="337.70" font-size="11.6">18.924°</text>
<path d="M600.60 348.00H627.40" stroke="#a97ee2" stroke-width="2.0"/>
<text x="630.00" y="352.00" font-size="11.6">9.528°</text>
<path d="M600.60 361.90H627.40" stroke="#d4a422" stroke-width="2.0"/>
<text x="630.00" y="365.90" font-size="11.6">0°</text>
</svg>
</body></html>
